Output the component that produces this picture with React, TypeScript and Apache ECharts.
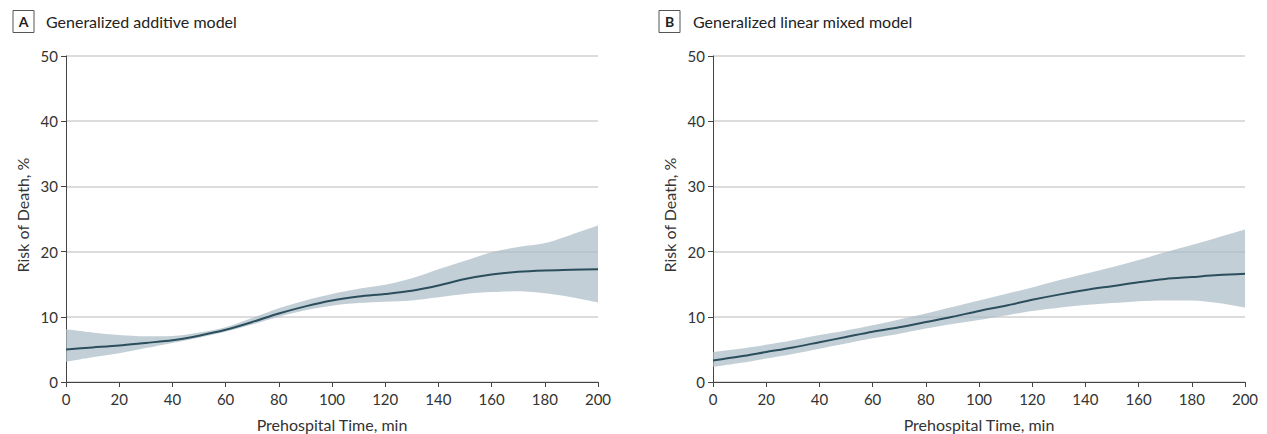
import React, { useEffect, useRef } from "react";
import * as echarts from "echarts";

const times = [0, 10, 20, 30, 40, 50, 60, 70, 80, 90, 100, 110, 120, 130, 140, 150, 160, 170, 180, 190, 200];

const gamLine = [5.0, 5.3, 5.6, 6.0, 6.4, 7.1, 8.0, 9.2, 10.5, 11.6, 12.5, 13.1, 13.5, 14.0, 14.8, 15.8, 16.5, 16.9, 17.1, 17.2, 17.3];
const gamLower = [3.1, 3.8, 4.4, 5.2, 6.0, 6.8, 7.7, 8.8, 10.0, 11.0, 11.7, 12.1, 12.3, 12.5, 13.0, 13.5, 13.8, 13.9, 13.6, 13.0, 12.2];
const gamUpper = [8.1, 7.6, 7.2, 7.0, 7.05, 7.6, 8.4, 9.8, 11.3, 12.5, 13.5, 14.3, 14.9, 15.9, 17.3, 18.6, 19.9, 20.7, 21.3, 22.6, 24.0];

const glmmLine = [3.3, 3.9, 4.6, 5.3, 6.1, 6.9, 7.7, 8.4, 9.2, 10.0, 10.9, 11.7, 12.6, 13.4, 14.1, 14.7, 15.3, 15.8, 16.1, 16.4, 16.6];
const glmmLower = [2.3, 2.9, 3.6, 4.3, 5.1, 5.9, 6.7, 7.4, 8.2, 8.9, 9.5, 10.2, 10.9, 11.4, 11.8, 12.1, 12.4, 12.5, 12.5, 12.1, 11.4];
const glmmUpper = [4.6, 5.1, 5.7, 6.4, 7.2, 7.9, 8.7, 9.6, 10.5, 11.5, 12.5, 13.5, 14.5, 15.6, 16.6, 17.6, 18.7, 19.9, 21.0, 22.2, 23.4];

const panelLetters = ["A", "B"];
const panelTitles = ["Generalized additive model", "Generalized linear mixed model"];
const xTitle = "Prehospital Time, min";
const yTitle = "Risk of Death, %";

const FONT = "Lato, 'Liberation Sans', sans-serif";
const LINE_COLOR = "#2b4e5c";
const BAND_COLOR = "rgba(172,188,198,0.72)";
const AXIS_COLOR = "#444";
const TEXT_COLOR = "#333";

export default function App() {
  const ref = useRef<HTMLDivElement>(null);

  useEffect(() => {
    if (!ref.current) return;
    const chart = echarts.init(ref.current, null, { renderer: "svg" });

    const grids = [
      { left: 66, top: 56, width: 532, height: 326 },
      { left: 713, top: 56, width: 532, height: 326 },
    ];

    const panels = [
      { line: gamLine, lower: gamLower, upper: gamUpper },
      { line: glmmLine, lower: glmmLower, upper: glmmUpper },
    ];

    const xAxes = grids.map((_, i) => ({
      type: "category",
      gridIndex: i,
      data: times.map(String),
      boundaryGap: false,
      axisLine: { show: true, onZero: false, lineStyle: { color: AXIS_COLOR, width: 1 } },
      axisTick: { show: true, length: 5, interval: 1, lineStyle: { color: AXIS_COLOR } },
      axisLabel: { fontFamily: FONT, fontSize: 15, color: TEXT_COLOR, margin: 9, interval: 1 },
      splitLine: { show: false },
    }));

    const yAxes = grids.map((_, i) => ({
      type: "value",
      gridIndex: i,
      min: 0,
      max: 50,
      interval: 10,
      axisLine: { show: true, lineStyle: { color: AXIS_COLOR, width: 1 } },
      axisTick: { show: true, length: 5, lineStyle: { color: AXIS_COLOR } },
      axisLabel: { fontFamily: FONT, fontSize: 15, color: TEXT_COLOR, margin: 8 },
      splitLine: { show: true, lineStyle: { color: "#dcdcdc", width: 2 } },
    }));

    const series: any[] = [];
    panels.forEach((p, i) => {
      series.push({
        type: "line",
        xAxisIndex: i,
        yAxisIndex: i,
        stack: "band" + i,
        data: p.lower,
        symbol: "none",
        smooth: 0.3,
        lineStyle: { opacity: 0 },
        silent: true,
      });
      series.push({
        type: "line",
        xAxisIndex: i,
        yAxisIndex: i,
        stack: "band" + i,
        data: p.upper.map((u, k) => +(u - p.lower[k]).toFixed(3)),
        symbol: "none",
        smooth: 0.3,
        lineStyle: { opacity: 0 },
        areaStyle: { color: BAND_COLOR, opacity: 1 },
        silent: true,
      });
      series.push({
        type: "line",
        xAxisIndex: i,
        yAxisIndex: i,
        data: p.line,
        symbol: "none",
        smooth: 0.3,
        lineStyle: { color: LINE_COLOR, width: 2 },
        z: 5,
      });
    });

    const graphic: any[] = [];
    const boxX = [13, 659];
    const titleX = [46, 693];
    const yNameX = [22, 669];
    const xNameCenter = [332, 979];
    for (let i = 0; i < 2; i++) {
      graphic.push({
        type: "rect",
        shape: { x: boxX[i], y: 10.5, width: 21, height: 22 },
        style: { fill: "#fff", stroke: "#555", lineWidth: 1 },
      });
      graphic.push({
        type: "text",
        x: boxX[i] + 10.5,
        y: 21.5,
        style: {
          text: panelLetters[i],
          fontFamily: FONT,
          fontWeight: "bold",
          fontSize: 14,
          fill: "#222",
          align: "center",
          verticalAlign: "middle",
        },
      });
      graphic.push({
        type: "text",
        x: titleX[i],
        y: 21.5,
        style: {
          text: panelTitles[i],
          fontFamily: FONT,
          fontSize: 16,
          fill: "#222",
          align: "left",
          verticalAlign: "middle",
        },
      });
      graphic.push({
        type: "text",
        x: yNameX[i],
        y: 215,
        rotation: Math.PI / 2,
        style: {
          text: yTitle,
          fontFamily: FONT,
          fontSize: 16,
          fill: TEXT_COLOR,
          align: "center",
          verticalAlign: "middle",
        },
      });
      graphic.push({
        type: "text",
        x: xNameCenter[i],
        y: 424,
        style: {
          text: xTitle,
          fontFamily: FONT,
          fontSize: 16,
          fill: TEXT_COLOR,
          align: "center",
          verticalAlign: "middle",
        },
      });
    }

    chart.setOption({
      animation: false,
      backgroundColor: "#fff",
      grid: grids,
      xAxis: xAxes,
      yAxis: yAxes,
      series,
      graphic,
    });

    return () => chart.dispose();
  }, []);

  return (
    <div
      ref={ref}
      style={{ position: "absolute", left: 0, top: 0, width: 1267, height: 434 }}
    />
  );
}
